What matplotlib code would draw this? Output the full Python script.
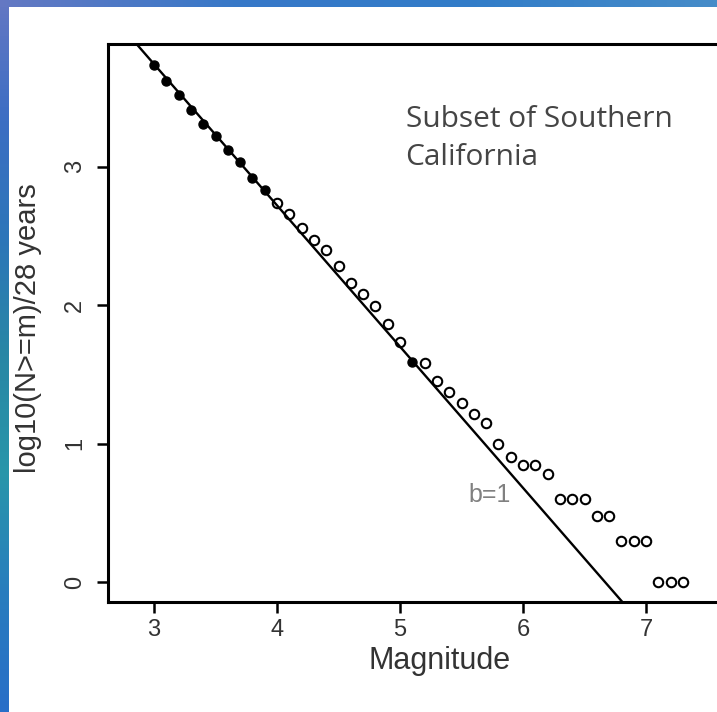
import numpy as np
import matplotlib
matplotlib.use("Agg")
import matplotlib.pyplot as plt

# fit range (filled points)
fit_mag = [3.0, 3.1, 3.2, 3.3, 3.4, 3.5, 3.6, 3.7, 3.8, 3.9, 5.1]
fit_logn = [3.73, 3.62, 3.52, 3.41, 3.31, 3.22, 3.12, 3.03, 2.92, 2.83, 1.59]

# remaining catalogue points (open circles)
mag = [4.0, 4.1, 4.2, 4.3, 4.4, 4.5, 4.6, 4.7, 4.8, 4.9, 5.0,
       5.2, 5.3, 5.4, 5.5, 5.6, 5.7, 5.8, 5.9, 6.0, 6.1, 6.2,
       6.3, 6.4, 6.5, 6.6, 6.7, 6.8, 6.9, 7.0, 7.1, 7.2, 7.3]
logn = [2.74, 2.66, 2.56, 2.47, 2.40, 2.28, 2.16, 2.08, 1.99, 1.86, 1.73,
        1.58, 1.45, 1.37, 1.29, 1.21, 1.15, 1.00, 0.90, 0.845, 0.845, 0.78,
        0.60, 0.60, 0.60, 0.477, 0.477, 0.30, 0.30, 0.30, 0.0, 0.0, 0.0]

a_value = 6.8
b_value = 1.02

x_ticks = [3, 4, 5, 6, 7]
y_ticks = [0, 1, 2, 3]

W, H = 717, 712
fig = plt.figure(figsize=(W / 100, H / 100), dpi=100)
fig.patch.set_facecolor("white")

# blue gradient border (left and top)
left_cols = np.array([[100, 120, 195], [60, 110, 195], [45, 118, 185],
                      [40, 135, 165], [40, 150, 170], [40, 125, 190],
                      [40, 110, 200]]) / 255.0
top_cols = np.array([[100, 120, 195], [55, 120, 200], [50, 125, 200],
                     [70, 140, 200]]) / 255.0

def gradient(cols, n):
    t = np.linspace(0, 1, len(cols))
    tt = np.linspace(0, 1, n)
    return np.stack([np.interp(tt, t, cols[:, k]) for k in range(3)], axis=1)

ax_l = fig.add_axes([0, 0, 9 / W, 1])
ax_l.imshow(gradient(left_cols, 200)[:, None, :], aspect="auto")
ax_l.axis("off")
ax_t = fig.add_axes([0, 1 - 7 / H, 1, 7 / H])
ax_t.imshow(gradient(top_cols, 200)[None, :, :], aspect="auto")
ax_t.axis("off")

ax = fig.add_axes([108 / W, (H - 602) / H, (W - 108) / W, (602 - 44) / H])
ax.set_xlim(2.626, 7.577)
ax.set_ylim(-0.144, 3.885)

xs = np.array(ax.get_xlim())
ax.plot(xs, a_value - b_value * xs, color="black", linewidth=1.7, zorder=2)

ax.plot(mag, logn, linestyle="none", marker="o", markersize=6.8,
        markerfacecolor="none", markeredgecolor="black", markeredgewidth=1.5, zorder=3)
ax.plot(fit_mag, fit_logn, linestyle="none", marker="o", markersize=6.5,
        markerfacecolor="black", markeredgecolor="black", zorder=3)

sans = ["Liberation Sans", "DejaVu Sans"]
ax.text(5.73, 0.63, "b=1", fontsize=18, color="#808080", ha="center", va="center",
        family=sans)
ax.text(5.045, 3.285, "Subset of Southern", fontsize=21.5, color="#454545",
        ha="left", va="baseline", family="Open Sans")
ax.text(5.045, 3.011, "California", fontsize=21.5, color="#454545",
        ha="left", va="baseline", family="Open Sans")

ax.set_xticks(x_ticks)
ax.set_yticks(y_ticks)
ax.tick_params(direction="out", length=8, width=1.8, labelsize=17, labelcolor="#333333")
ax.tick_params(axis="x", pad=4)
ax.tick_params(axis="y", pad=8)
for lab in ax.get_xticklabels() + ax.get_yticklabels():
    lab.set_family(sans)
for lab in ax.get_yticklabels():
    lab.set_rotation(90)
    lab.set_va("center")

ax.set_xlabel("Magnitude", fontsize=22, color="#333333", family=sans)
ax.set_ylabel("log10(N>=m)/28 years", fontsize=21, color="#333333", family=sans)
ax.xaxis.set_label_coords(0.545, -0.105)
ax.xaxis.label.set_va("center")
ax.yaxis.set_label_coords(-0.131, 0.49)
ax.yaxis.label.set_va("center")

for side in ["left", "bottom", "top"]:
    ax.spines[side].set_linewidth(2.2)
ax.spines["right"].set_visible(False)

fig.savefig("out.png", dpi=100)
